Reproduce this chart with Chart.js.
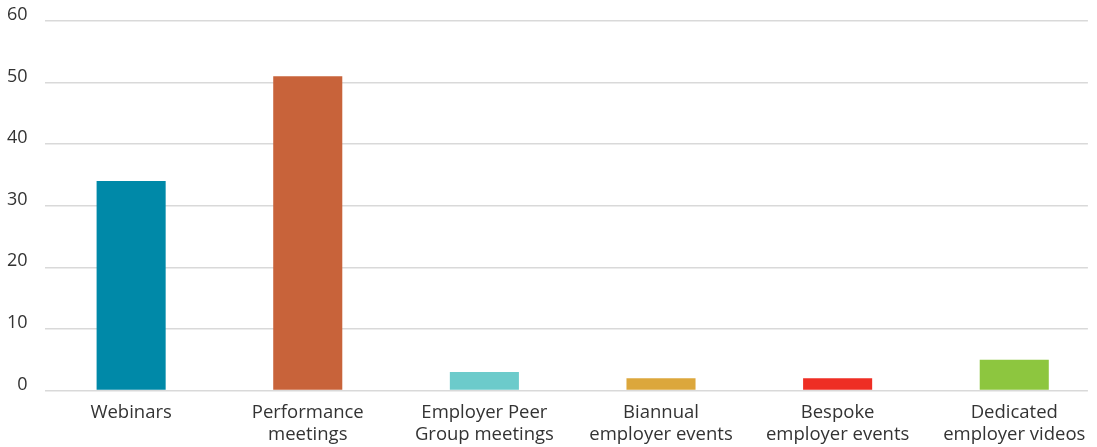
<!DOCTYPE html>
<html>
<head>
<meta charset="utf-8">
<script src="https://cdn.jsdelivr.net/npm/chart.js@4/dist/chart.umd.min.js"></script>
<style>
  html, body { margin: 0; padding: 0; background: #ffffff; }
  #wrap { width: 1097px; height: 447px; position: relative; overflow: hidden; }
  #inner { position: absolute; left: 0; top: -7px; width: 1097px; height: 456px; }
</style>
</head>
<body>
<div id="wrap"><div id="inner"><canvas id="chart"></canvas></div></div>
<script>
// Categories (multi-line labels) and their values
const categories = [
  ["Webinars"],
  ["Performance", "meetings"],
  ["Employer Peer", "Group meetings"],
  ["Biannual", "employer events"],
  ["Bespoke", "employer events"],
  ["Dedicated", "employer videos"]
];
const values = [34, 51, 3, 2, 2, 5];
const barColors = ["#0089a8", "#c8633a", "#6ccbcb", "#dca73c", "#ee2e24", "#8dc63f"];
const yTicks = [0, 10, 20, 30, 40, 50, 60];

// Category slots run slightly past the right end of the grid lines
const xMin = -0.49;
const xMax = 5.417;

new Chart(document.getElementById("chart"), {
  type: "bar",
  data: {
    datasets: [{
      data: values.map((v, i) => ({ x: i, y: v })),
      backgroundColor: barColors,
      borderWidth: 0,
      barPercentage: 0.391,
      categoryPercentage: 1.0
    }]
  },
  options: {
    responsive: true,
    maintainAspectRatio: false,
    animation: false,
    layout: { padding: { top: -7, right: 9, left: -10, bottom: -8 } },
    plugins: { legend: { display: false }, tooltip: { enabled: false } },
    scales: {
      x: {
        type: "linear",
        offset: false,
        min: xMin,
        max: xMax,
        afterBuildTicks: (axis) => { axis.ticks = categories.map((c, i) => ({ value: i })); },
        grid: { display: false, drawTicks: false, offset: false },
        border: { display: false },
        ticks: {
          color: "#333333",
          font: { family: "'Open Sans', sans-serif", size: 18.5, lineHeight: 1.2 },
          padding: 11,
          maxRotation: 0,
          autoSkip: false,
          callback: (value) => categories[value]
        }
      },
      y: {
        min: yTicks[0],
        max: yTicks[yTicks.length - 1],
        afterBuildTicks: (axis) => { axis.ticks = yTicks.map(v => ({ value: v })); },
        grid: { color: "#d9d9d9", lineWidth: 1.5, drawTicks: false },
        border: { display: false },
        ticks: {
          color: "#333333",
          font: { family: "'Open Sans', sans-serif", size: 18 },
          padding: 17,
          labelOffset: -6
        }
      }
    }
  }
});
</script>
</body>
</html>
